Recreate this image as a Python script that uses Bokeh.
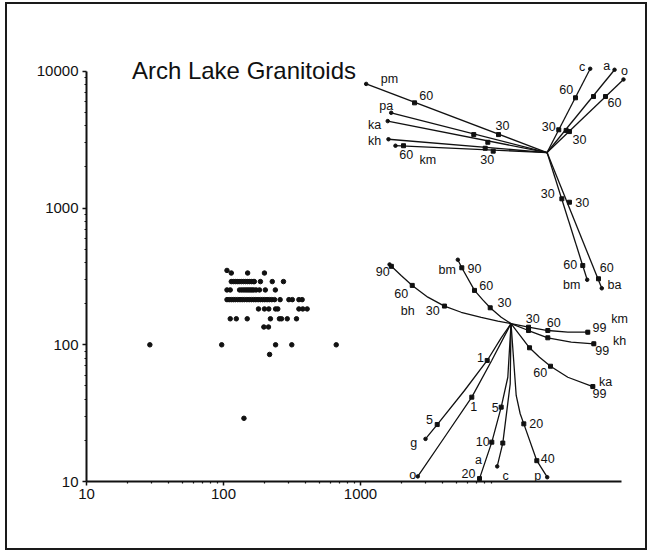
from math import pi

from bokeh.plotting import figure
from bokeh.models import Range1d, FixedTicker, Label, NumeralTickFormatter
from bokeh.embed import file_html
from bokeh.resources import INLINE

INK = "#111111"
FONT = "Liberation Sans"

# Arch Lake granitoid samples (Sr ppm, Rb ppm)
sample_sr = [
    106, 114, 150, 199,
    114, 118, 122, 126, 130, 135, 140, 145, 150, 155, 160, 165, 168, 186, 227, 274,
    106, 112, 131, 136, 141, 146, 151, 156, 161, 166, 173, 183, 202, 239,
    106, 110, 114, 118, 122, 127, 132, 137, 142, 148, 154, 160, 166, 172, 179, 186,
    193, 200, 208, 216, 225, 236, 259, 300, 318, 355, 375,
    180, 199, 214, 240, 249, 355, 379, 408,
    112, 124, 149, 220, 256, 265, 292, 341,
    197, 213,
    29, 97, 240, 315, 665,
    217,
    141,
]
sample_rb = [
    350, 335, 335, 335,
    290, 290, 290, 290, 290, 290, 290, 290, 290, 290, 290, 290, 290, 290, 290, 290,
    252, 252, 252, 252, 252, 252, 252, 252, 252, 252, 252, 252, 252, 252,
    214, 214, 214, 214, 214, 214, 214, 214, 214, 214, 214, 214, 214, 214, 214, 214,
    214, 214, 214, 214, 214, 214, 214, 214, 214, 214, 214,
    183, 183, 183, 183, 183, 183, 183, 183,
    155, 155, 155, 155, 155, 155, 155, 155,
    135, 135,
    100, 100, 100, 100, 100,
    85,
    29,
]

# Fractionation vectors: (Sr, Rb) along each path, starting point first
upper_start = (23000, 2550)
lower_start = (12550, 143)

pm_path = [upper_start, (1100, 8100)]
pm_ticks = [(10170, 3450), (2480, 5890)]
pa_path = [upper_start, (1675, 4980)]
pa_ticks = [(6710, 3450)]
ka_up_path = [upper_start, (1580, 4330)]
ka_up_ticks = [(8500, 3030)]
kh_up_path = [upper_start, (1600, 3190)]
kh_up_ticks = [(8130, 2740)]
km_up_path = [upper_start, (1800, 2860)]
km_up_ticks = [(9300, 2610), (2060, 2860)]
c_up_path = [upper_start, (47500, 10450)]
c_up_ticks = [(28000, 3740), (37100, 6410)]
a_up_path = [upper_start, (71500, 10280)]
a_up_ticks = [(31700, 3700), (50200, 6550)]
o_up_path = [upper_start, (83100, 8730)]
o_up_ticks = [(33500, 3630), (61400, 6550)]
bm_up_path = [upper_start, (45150, 299)]
bm_up_ticks = [(29500, 1170), (41900, 380)]
ba_path = [upper_start, (57700, 259)]
ba_ticks = [(33500, 1104), (54600, 304)]

bh_path = [lower_start, (10050, 149), (7600, 159), (5430, 173), (4100, 192),
           (3100, 223), (2385, 272), (1980, 321), (1630, 387)]
bh_ticks = [(4100, 192), (2385, 272), (1680, 375)]
bm_path = [lower_start, (10640, 159), (8845, 186.5), (7810, 213), (6794, 250),
           (5488, 366), (5132, 419)]
bm_ticks = [(8845, 186.5), (6794, 250), (5488, 366)]
km_path = [lower_start, (16840, 134.5), (23290, 127.2), (32600, 123.7), (45610, 123.7)]
km_ticks = [(16840, 134.5), (23290, 127.2), (45610, 123.7)]
kh_path = [lower_start, (16840, 127.2), (23290, 112.5), (34510, 104.5), (50460, 101.7)]
kh_ticks = [(16840, 127.2), (23290, 112.5), (50460, 101.7)]
ka_path = [lower_start, (17130, 95.1), (20260, 81.2), (24370, 69.7), (32600, 57.9), (49620, 49.5)]
ka_ticks = [(17130, 95.1), (24370, 69.7), (49620, 49.5)]
g_path = [lower_start, (10640, 112.5), (8410, 76.8), (5743, 46.3), (3630, 26.1), (2982, 20.5)]
g_ticks = [(8410, 76.8), (3630, 26.1)]
o_path = [lower_start, (9073, 76.8), (6492, 41.4), (4187, 21.7), (2619, 10.9)]
o_ticks = [(6492, 41.4)]
a_path = [lower_start, (11890, 57.9), (10640, 35), (9087, 19.4), (7390, 10.5)]
a_ticks = [(10640, 35), (9087, 19.4), (7390, 10.5)]
c_path = [lower_start, (12380, 51.8), (10930, 19.1), (9949, 12.9)]
c_ticks = [(10930, 19.1)]
p_path = [lower_start, (13690, 42.6), (14640, 31.3), (15560, 26.4), (19360, 14.2), (23060, 10.75)]
p_ticks = [(15560, 26.4), (19360, 14.2)]

# Path annotations: (text, Sr, Rb)
vector_labels = [
    ("pm", 1628, 8872), ("60", 3017, 6664), ("30", 10880, 4022),
    ("pa", 1540, 5537), ("ka", 1266, 4069), ("kh", 1266, 3122),
    ("60", 2156, 2455), ("km", 3099, 2267), ("30", 8410, 2256),
    ("c", 41520, 10860), ("a", 62790, 10910), ("o", 84530, 10030),
    ("60", 31730, 7334), ("60", 71450, 5893), ("30", 23690, 3954), ("30", 39680, 3159),
    ("30", 23290, 1272), ("30", 41520, 1104), ("60", 33930, 387), ("60", 62790, 366),
    ("bm", 34850, 272), ("ba", 71450, 272),
    ("90", 1455, 345), ("60", 1982, 236), ("bh", 2214, 176), ("30", 3371, 178),
    ("bm", 4294, 354), ("90", 6794, 360), ("60", 8269, 272), ("30", 11250, 205),
    ("30", 18100, 156.5), ("60", 25750, 146), ("99", 55520, 133), ("km", 77710, 155),
    ("99", 58110, 91), ("kh", 77710, 106), ("60", 20500, 63), ("ka", 61430, 53.3),
    ("99", 55520, 43.8),
    ("1", 7514, 80.3), ("5", 3188, 28.3), ("g", 2450, 19.1),
    ("1", 6714, 35.4), ("o", 2409, 11.25),
    ("5", 9621, 35), ("10", 7810, 19.7), ("a", 7266, 14.4), ("20", 6143, 11.4),
    ("c", 11440, 11.06), ("20", 19160, 26.7), ("40", 23290, 14.66), ("p", 19690, 10.9),
]

x_major = [10, 100, 1000]
x_minor = [20, 30, 40, 50, 60, 70, 80, 90, 200, 300, 400, 500, 600, 700, 800, 900,
           2000, 3000, 4000, 5000, 6000, 7000, 8000, 9000]
y_major = [10, 100, 1000, 10000]
y_minor = [20, 30, 40, 50, 60, 70, 80, 90, 200, 300, 400, 500, 600, 700, 800, 900,
           2000, 3000, 4000, 5000, 6000, 7000, 8000, 9000]

p = figure(width=642, height=548, x_axis_type="log", y_axis_type="log",
           x_range=Range1d(10, 103400), y_range=Range1d(10, 13750),
           output_backend="svg", toolbar_location=None, title=None,
           min_border_left=79, min_border_right=13, min_border_top=48,
           min_border_bottom=71)
p.styles = {"border": "2px solid #1a1a1a", "margin-left": "5px", "margin-top": "2px"}
p.outline_line_color = None
p.background_fill_color = "white"
p.border_fill_color = "white"
p.xgrid.visible = False
p.ygrid.visible = False

p.xaxis.ticker = FixedTicker(ticks=x_major, minor_ticks=x_minor)
p.yaxis.ticker = FixedTicker(ticks=y_major, minor_ticks=y_minor)
p.xaxis.bounds = (10, 80000)
p.yaxis.bounds = (10, 10000)
for ax in (p.xaxis, p.yaxis):
    ax.formatter = NumeralTickFormatter(format="0")
    ax.axis_line_color = INK
    ax.axis_line_width = 2
    ax.major_tick_line_color = INK
    ax.minor_tick_line_color = INK
    ax.major_tick_line_width = 1.5
    ax.minor_tick_line_width = 1.2
    ax.major_tick_out = 4
    ax.major_tick_in = 0
    ax.minor_tick_out = 2
    ax.minor_tick_in = 0
    ax.major_label_text_font = FONT
    ax.major_label_text_font_size = "15px"
    ax.major_label_text_color = INK
p.xaxis.major_label_standoff = 3
p.yaxis.major_label_standoff = 4

# granitoid analyses
p.scatter(sample_sr, sample_rb, marker="circle", size=4.5, color=INK)

paths = [
    (pm_path, pm_ticks), (pa_path, pa_ticks), (ka_up_path, ka_up_ticks),
    (kh_up_path, kh_up_ticks), (km_up_path, km_up_ticks), (c_up_path, c_up_ticks),
    (a_up_path, a_up_ticks), (o_up_path, o_up_ticks), (bm_up_path, bm_up_ticks),
    (ba_path, ba_ticks), (bh_path, bh_ticks), (bm_path, bm_ticks), (km_path, km_ticks),
    (kh_path, kh_ticks), (ka_path, ka_ticks), (g_path, g_ticks), (o_path, o_ticks),
    (a_path, a_ticks), (c_path, c_ticks), (p_path, p_ticks),
]
for path, ticks in paths:
    xs = [pt[0] for pt in path]
    ys = [pt[1] for pt in path]
    p.line(xs, ys, line_color=INK, line_width=1.3)
    p.scatter([xs[-1]], [ys[-1]], marker="circle", size=3.5, color=INK)
    p.scatter([t[0] for t in ticks], [t[1] for t in ticks], marker="square",
              size=4, color=INK)

for text, sx, ry in vector_labels:
    p.add_layout(Label(x=sx, y=ry, text=text, text_font=FONT, text_font_size="12.5px",
                       text_color=INK, text_align="center", text_baseline="middle"))

p.add_layout(Label(x=21.45, y=10170, text="Arch Lake Granitoids", text_font=FONT,
                   text_font_size="24px", text_color=INK, text_align="left",
                   text_baseline="alphabetic"))
p.add_layout(Label(x=126.6, y=4.95, text="Sr ppm", text_font=FONT,
                   text_font_size="20px", text_color=INK, text_align="center",
                   text_baseline="alphabetic"))
p.add_layout(Label(x=5.06, y=300, text="Rb ppm", text_font=FONT, angle=pi / 2,
                   text_font_size="20px", text_color=INK, text_align="center",
                   text_baseline="alphabetic"))

open("out.html", "w").write(file_html(p, INLINE))
